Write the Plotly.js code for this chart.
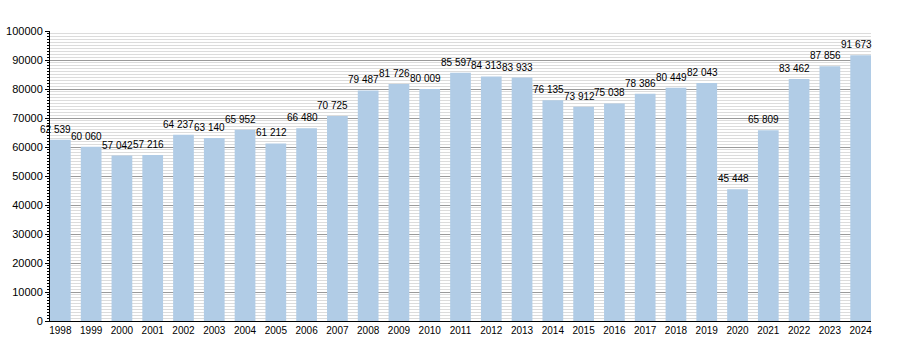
<!DOCTYPE html>
<html><head><meta charset="utf-8">
<script src="https://cdn.plot.ly/plotly-3.0.1.min.js"></script>
<style>body{margin:0;background:#fff}#c{width:900px;height:350px}</style>
</head><body><div id="c"></div>
<script>
const years = ['1998','1999','2000','2001','2002','2003','2004','2005','2006','2007','2008','2009','2010','2011','2012','2013','2014','2015','2016','2017','2018','2019','2020','2021','2022','2023','2024'];
const values = [62539,60060,57042,57216,64237,63140,65952,61212,66480,70725,79487,81726,80009,85597,84313,83933,76135,73912,75038,78386,80449,82043,45448,65809,83462,87856,91673];
const labels = values.map(v => String(v).replace(/\B(?=(\d{3})+(?!\d))/g, ' '));
const yTicks = [0,10000,20000,30000,40000,50000,60000,70000,80000,90000,100000];

const fontFam = 'Liberation Sans, Arial, sans-serif';
const BW = 0.673;
const annotations = years.map((yr, i) => ({
  xref: 'x', yref: 'y', x: i, y: values[i], text: labels[i], showarrow: false,
  xanchor: 'center', yanchor: 'bottom', xshift: -4.5, yshift: 3,
  font: {family: fontFam, size: 10, color: '#000'}
}));

Plotly.newPlot('c', [{
  type: 'bar', x: years, y: values, width: BW,
  marker: {color: '#b1cce6', line: {width: 0}}, hoverinfo: 'none'
}], {
  width: 900, height: 350,
  margin: {l: 50, r: 29, t: 31, b: 29},
  paper_bgcolor: '#fff', plot_bgcolor: '#fff',
  showlegend: false,
  font: {family: fontFam, size: 11, color: '#000'},
  annotations: annotations,
  xaxis: {type: 'category', range: [-BW/2, years.length - 1 + BW/2],
    showline: true, linecolor: '#000', linewidth: 1,
    ticks: '', tickfont: {size: 10}, showgrid: false},
  yaxis: {range: [0, 100000], tickvals: yTicks, ticktext: yTicks.map(String),
    showline: true, linecolor: '#000', linewidth: 1,
    ticks: 'outside', ticklen: 4, tickcolor: '#000',
    gridcolor: '#9a9a9a', gridwidth: 1, zeroline: false, tickfont: {size: 11},
    minor: {dtick: 1000, showgrid: true, gridcolor: '#dcdcdc', gridwidth: 1,
      ticks: 'outside', ticklen: 2, tickcolor: '#000'}}
}, {displayModeBar: false});
</script></body></html>
